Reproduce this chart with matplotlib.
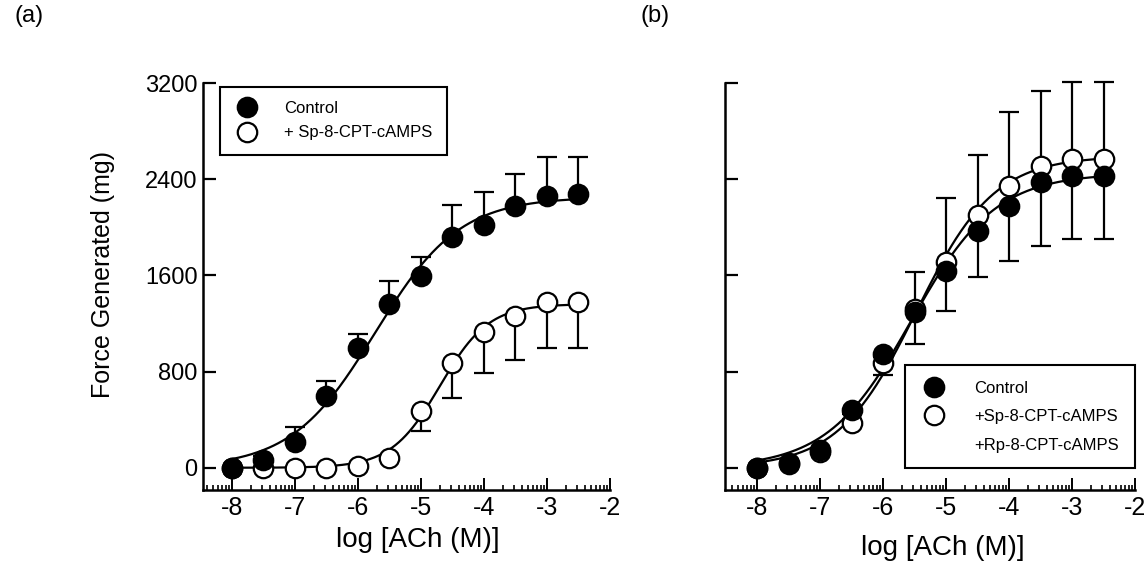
import numpy as np
import matplotlib
matplotlib.use("Agg")
import matplotlib.pyplot as plt
from matplotlib.lines import Line2D
from matplotlib.ticker import FixedLocator

plt.rcParams["font.family"] = ["Liberation Sans", "DejaVu Sans"]

# log [ACh (M)]
log_ach = [-8, -7.5, -7, -6.5, -6, -5.5, -5, -4.5, -4, -3.5, -3, -2.5]

# panel (a)
a_control = [0, 65, 212, 595, 1000, 1360, 1592, 1917, 2017, 2175, 2260, 2275]
a_control_err = [0, 35, 130, 125, 115, 192, 158, 266, 275, 267, 323, 308]
a_sp = [0, 0, 0, 0, 15, 83, 470, 875, 1125, 1258, 1375, 1375]
a_sp_err = [0, 0, 0, 0, 0, 20, 167, 292, 333, 358, 375, 375]

# panel (b)
b_control = [0, 42, 150, 483, 942, 1292, 1633, 1967, 2175, 2375, 2425, 2425]
b_control_err = [0, 0, 0, 40, 167, 259, 333, 384, 458, 533, 525, 525]
b_sp = [0, 30, 135, 375, 875, 1317, 1708, 2100, 2342, 2508, 2567, 2567]
b_sp_err = [0, 0, 0, 30, 50, 308, 534, 500, 616, 625, 641, 641]

yticks = [0, 800, 1600, 2400, 3200]
xticks = [-8, -7, -6, -5, -4, -3, -2]


def hill_fit(x, y):
    # coarse least-squares grid fit of a Hill curve with bottom = 0
    x = np.asarray(x, float)
    y = np.asarray(y, float)
    tops = np.linspace(0.9 * y.max(), 1.3 * y.max(), 41)
    mids = np.linspace(-8, -3, 201)
    slopes = np.linspace(0.3, 2.0, 69)
    T, M, S = np.meshgrid(tops, mids, slopes, indexing="ij")
    best = None
    for k in range(len(tops)):
        pred = T[k][..., None] / (1 + 10 ** ((M[k][..., None] - x) * S[k][..., None]))
        sse = ((pred - y) ** 2).sum(-1)
        j = np.unravel_index(sse.argmin(), sse.shape)
        if best is None or sse[j] < best[0]:
            best = (sse[j], T[k][j], M[k][j], S[k][j])
    return best[1:]


def hill_curve(params, xs):
    top, mid, n = params
    return top / (1 + 10 ** ((mid - xs) * n))


def minor_positions(lo, hi):
    out = []
    for d in range(int(np.floor(lo)) - 1, int(np.ceil(hi)) + 1):
        for m in range(2, 10):
            p = d + np.log10(m)
            if lo <= p <= hi:
                out.append(p)
    return out


def style_axes(ax, xlo, show_ylabels):
    ax.set_xlim(xlo, -2)
    ax.set_ylim(-185, 3200)
    for s in ["top", "right"]:
        ax.spines[s].set_visible(False)
    for s in ["left", "bottom"]:
        ax.spines[s].set_linewidth(1.8)
    ax.set_xticks(xticks)
    ax.set_xticklabels([str(t) for t in xticks])
    ax.xaxis.set_minor_locator(FixedLocator(minor_positions(xlo, -2)))
    ax.set_yticks(yticks)
    if show_ylabels:
        ax.set_yticklabels([str(t) for t in yticks])
    else:
        ax.set_yticklabels([])
    ax.tick_params(axis="x", which="major", direction="in", length=9, width=1.4,
                   labelsize=18, pad=4)
    ax.tick_params(axis="x", which="minor", direction="in", length=3.8, width=1.2)
    ax.tick_params(axis="y", which="major", direction="in", length=9, width=1.6,
                   labelsize=17, pad=4)


fig = plt.figure(figsize=(11.47, 5.85), dpi=100)
ax1 = fig.add_axes([203 / 1147, 1 - 490 / 585, 407 / 1147, 407 / 585])
ax2 = fig.add_axes([725 / 1147, 1 - 490 / 585, 410 / 1147, 407 / 585])

xs = np.linspace(-8, -2.5, 300)
mk = dict(marker="o", markersize=14, markeredgewidth=1.6, markeredgecolor="black", linestyle="none")
eb = dict(fmt="none", ecolor="black", elinewidth=1.6, capsize=7, capthick=1.6)


def draw_errorbar(ax, y, lower, upper):
    bars = ax.errorbar(log_ach, y, yerr=[lower, upper], zorder=1, **eb)
    for part in bars.lines[1] + bars.lines[2]:
        part.set_clip_on(False)


zeros = [0] * len(log_ach)

# panel (a)
ax1.plot(xs, hill_curve(hill_fit(log_ach, a_control), xs), color="black", lw=1.6, zorder=2)
ax1.plot(xs, hill_curve(hill_fit(log_ach, a_sp), xs), color="black", lw=1.6, zorder=2)
draw_errorbar(ax1, a_control, zeros, a_control_err)
draw_errorbar(ax1, a_sp, a_sp_err, zeros)
ax1.plot(log_ach, a_sp, markerfacecolor="white", zorder=3, **mk)
ax1.plot(log_ach, a_control, markerfacecolor="black", zorder=4, **mk)
style_axes(ax1, -8.46, True)

# panel (b)
ax2.plot(xs, hill_curve(hill_fit(log_ach, b_control), xs), color="black", lw=1.6, zorder=2)
ax2.plot(xs, hill_curve(hill_fit(log_ach, b_sp), xs), color="black", lw=1.6, zorder=2)
draw_errorbar(ax2, b_control, b_control_err, zeros)
draw_errorbar(ax2, b_sp, zeros, b_sp_err)
ax2.plot(log_ach, b_sp, markerfacecolor="white", zorder=3, **mk)
ax2.plot(log_ach, b_control, markerfacecolor="black", zorder=4, **mk)
style_axes(ax2, -8.51, False)

# legends
h_ctrl = Line2D([], [], markerfacecolor="black", **mk)
h_sp = Line2D([], [], markerfacecolor="white", **mk)
h_none = Line2D([], [], linestyle="none", marker="none")

leg1 = ax1.legend([h_ctrl, h_sp], ["Control", "+ Sp-8-CPT-cAMPS"], loc="upper left",
                  bbox_to_anchor=(0.042, 0.99), borderaxespad=0, fontsize=12,
                  fancybox=False, edgecolor="black", framealpha=1,
                  handlelength=1.5, handletextpad=1.5, labelspacing=0.55,
                  borderpad=0.85)
leg1.get_frame().set_linewidth(1.5)
leg2 = ax2.legend([h_ctrl, h_sp, h_none], ["Control", "+Sp-8-CPT-cAMPS", "+Rp-8-CPT-cAMPS"],
                  loc="upper left", bbox_to_anchor=(0.44, 0.307), borderaxespad=0, fontsize=12,
                  fancybox=False, edgecolor="black", framealpha=1,
                  handlelength=1.5, handletextpad=1.7, labelspacing=0.8,
                  borderpad=0.95)
leg2.get_frame().set_linewidth(1.5)
leg2.set_zorder(5)

fig.text(103 / 1147, 1 - 275 / 585, "Force Generated (mg)", rotation=90,
         ha="center", va="center", fontsize=18)
fig.text(418 / 1147, 1 - 540 / 585, "log [ACh (M)]", ha="center", va="center", fontsize=20)
fig.text(943 / 1147, 1 - 548 / 585, "log [ACh (M)]", ha="center", va="center", fontsize=20)
fig.text(15 / 1147, 1 - 16 / 585, "(a)", ha="left", va="center", fontsize=17)
fig.text(640 / 1147, 1 - 16 / 585, "(b)", ha="left", va="center", fontsize=17)

fig.savefig("out.png", dpi=100)
